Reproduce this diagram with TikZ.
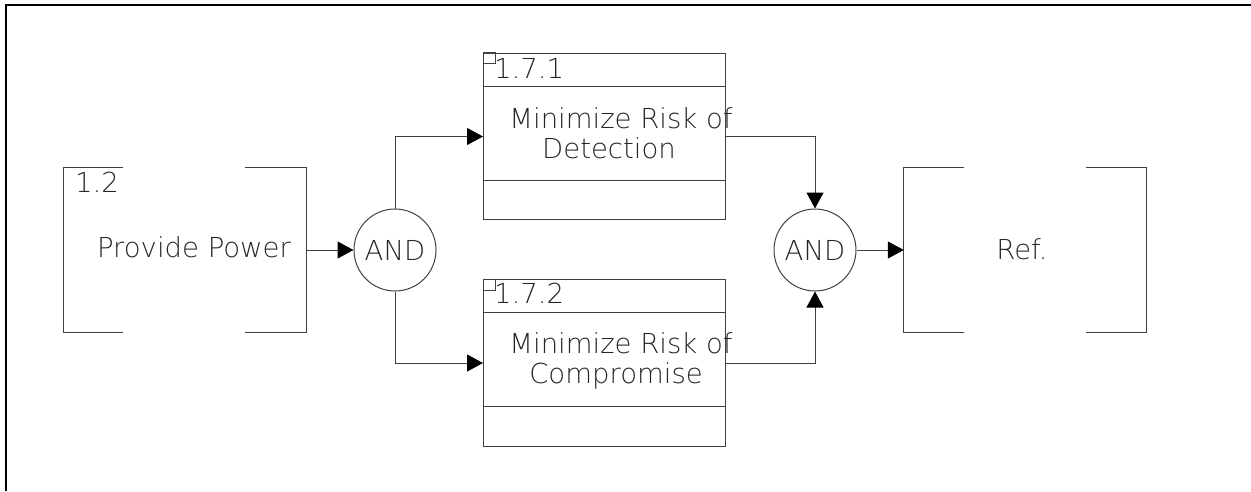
\documentclass[tikz,border=0pt]{standalone}
\usepackage{fontspec}
\setmainfont{DejaVu Sans ExtraLight}
\usetikzlibrary{arrows.meta}
\begin{document}
\begin{tikzpicture}[x=1pt,y=-1pt,
  ln/.style={line width=1pt, draw=black!75},
  arr/.style={ln, -{Triangle[length=16pt,width=17pt,color=black]}},
  lbl/.style={font=\fontsize{27.5}{30}\selectfont, text=black!85, inner sep=0pt},
  gate/.style={circle, ln, minimum size=82pt, inner sep=0pt, font=\fontsize{27.5}{30}\selectfont, text=black!85},
  fbox/.style={rectangle, ln, minimum width=242pt, minimum height=166.5pt, inner sep=0pt},
  brk/.style={rectangle, minimum width=242pt, minimum height=165pt, inner sep=0pt}
]
\useasboundingbox (0,0) rectangle (1251,491);
\draw[line width=2pt] (6,491) -- (6,5) -- (1251,5);

% Provide Power bracket
\node[brk] (pp) at (185,250) {};
\draw[ln] ([xshift=59pt]pp.north west) -- (pp.north west) -- (pp.south west) -- ([xshift=59pt]pp.south west);
\draw[ln] ([xshift=-61pt]pp.north east) -- (pp.north east) -- (pp.south east) -- ([xshift=-61pt]pp.south east);
\node[lbl, anchor=base west] (ppid) at (75,192) {1.2};
\node[lbl, anchor=base] (pptxt) at (194,257) {Provide Power};

% gates
\node[gate] (g1) at (395,250) {AND};
\node[gate] (g2) at (815,250) {AND};

% box 1.7.1
\node[fbox] (b1) at (604.5,136.5) {};
\draw[ln] ([yshift=-34pt]b1.north west) -- ([yshift=-34pt]b1.north east);
\draw[ln] ([yshift=40pt]b1.south west) -- ([yshift=40pt]b1.south east);
\draw[ln] (b1.north west) rectangle ++(12.5,11);
\node[lbl, anchor=base west] (b1id) at (494,78) {1.7.1};
\node[lbl, anchor=base] (b1t1) at (621,128) {Minimize Risk of};
\node[lbl, anchor=base] (b1t2) at (609,158) {Detection};

% box 1.7.2
\node[fbox] (b2) at (604.5,363) {};
\draw[ln] ([yshift=-33pt]b2.north west) -- ([yshift=-33pt]b2.north east);
\draw[ln] ([yshift=40pt]b2.south west) -- ([yshift=40pt]b2.south east);
\draw[ln] (b2.north west) rectangle ++(12.5,11);
\node[lbl, anchor=base west] (b2id) at (494,303) {1.7.2};
\node[lbl, anchor=base] (b2t1) at (621,353) {Minimize Risk of};
\node[lbl, anchor=base] (b2t2) at (616,383) {Compromise};

% Ref bracket
\node[brk] (ref) at (1025,250) {};
\draw[ln] ([xshift=60pt]ref.north west) -- (ref.north west) -- (ref.south west) -- ([xshift=60pt]ref.south west);
\draw[ln] ([xshift=-60pt]ref.north east) -- (ref.north east) -- (ref.south east) -- ([xshift=-60pt]ref.south east);
\node[lbl, anchor=base] (reftxt) at (1022,259) {Ref.};

% connectors
\draw[arr] (pp.east) -- (g1.west);
\draw[arr] (g1.north) |- (b1.west);
\draw[arr] (g1.south) |- (b2.west);
\draw[arr] (b1.east) -| (g2.north);
\draw[arr] (b2.east) -| (g2.south);
\draw[arr] (g2.east) -- (ref.west);
\end{tikzpicture}
\end{document}
